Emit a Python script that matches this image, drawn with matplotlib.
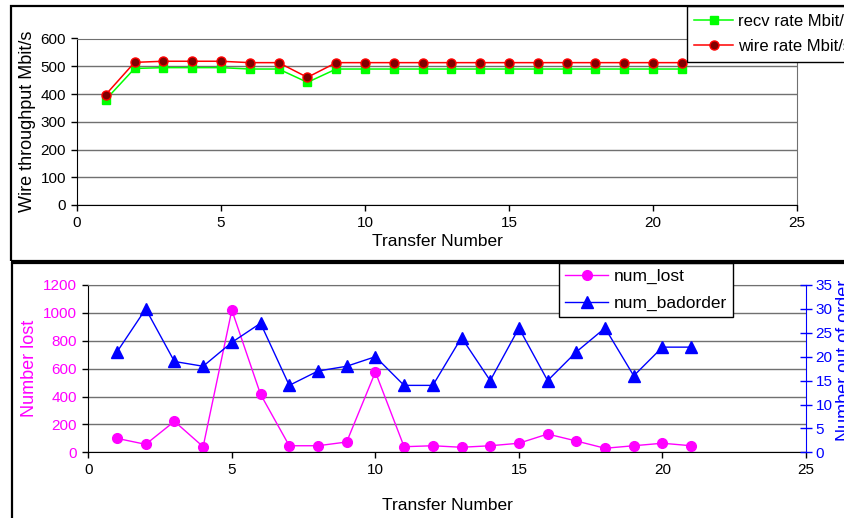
import matplotlib
matplotlib.use('Agg')
import matplotlib.pyplot as plt
from matplotlib.patches import Rectangle

plt.rcParams['font.family'] = ['Liberation Sans', 'DejaVu Sans']

# data
transfer = list(range(1, 22))
recv_rate = [380, 492, 495, 495, 495, 490, 490, 442, 490, 490, 490,
             490, 490, 490, 490, 490, 490, 490, 490, 490, 490]
wire_rate = [398, 514, 518, 518, 518, 513, 513, 460, 513, 513, 513,
             513, 513, 513, 513, 513, 513, 513, 513, 513, 513]
num_lost = [100, 57, 222, 40, 1020, 416, 47, 47, 74, 576, 40,
            47, 36, 47, 65, 131, 81, 29, 47, 65, 47]
num_badorder = [21, 30, 19, 18, 23, 27, 14, 17, 18, 20, 14,
                14, 24, 15, 26, 15, 21, 26, 16, 22, 22]

W, H = 845, 518
fig = plt.figure(figsize=(W / 100, H / 100), dpi=100)


def fx(px):
    return px / W


def fy(py):
    return 1 - py / H


# panel frames
fig.patches.append(Rectangle((fx(11), fy(261)), fx(900), fy(6) - fy(261),
                             transform=fig.transFigure, fill=False,
                             edgecolor='black', lw=1.6))
fig.patches.append(Rectangle((fx(12), fy(560)), fx(900), fy(263) - fy(560),
                             transform=fig.transFigure, fill=False,
                             edgecolor='black', lw=1.6))

grid_col = '#707070'

# ---- top chart ----
ax1 = fig.add_axes([fx(77), fy(205), fx(797) - fx(77), fy(38.5) - fy(205)])
ax1.plot(transfer, recv_rate, color='#00ff00', lw=1.1, marker='s',
         ms=6, mfc='#00ff00', mec='#00ff00', label='recv rate Mbit/s')
ax1.plot(transfer, wire_rate, color='#ff0000', lw=1.1, marker='o',
         ms=6.5, mfc='#800000', mec='#ff0000', label='wire rate Mbit/s')
ax1.set_xlim(0, 25)
ax1.set_ylim(0, 600)
ax1.set_xticks(range(0, 26, 5))
ax1.set_yticks(range(0, 601, 100))
ax1.yaxis.grid(True, color=grid_col, lw=1)
ax1.set_axisbelow(True)
for s in ['top', 'right']:
    ax1.spines[s].set_color(grid_col)
for s in ['left', 'bottom']:
    ax1.spines[s].set_color('black')
ax1.tick_params(direction='out', length=4, width=1, labelsize=11, pad=4)
ax1.set_ylabel('Wire throughput Mbit/s', fontsize=13, labelpad=3)
ax1.set_xlabel('Transfer Number', fontsize=12.5, labelpad=3)
ax1.legend(loc='upper left', bbox_to_anchor=(fx(687), fy(6)),
           bbox_transform=fig.transFigure, borderaxespad=0, fancybox=False,
           edgecolor='black', framealpha=1, fontsize=12, handlelength=2.3,
           handletextpad=0.3, labelspacing=0.65, borderpad=0.45)

# ---- bottom chart ----
ax2 = fig.add_axes([fx(88.3), fy(452.3), fx(806) - fx(88.3), fy(285) - fy(452.3)])
l1, = ax2.plot(transfer, num_lost, color='#ff00ff', lw=1.0, marker='o',
               ms=7, mfc='#ff00ff', mec='#ff00ff', label='num_lost')
ax2.set_xlim(0, 25)
ax2.set_ylim(0, 1200)
ax2.set_xticks(range(0, 26, 5))
ax2.set_yticks(range(0, 1201, 200))
ax2.yaxis.grid(True, color=grid_col, lw=1)
ax2.set_axisbelow(True)
ax2.spines['top'].set_color(grid_col)
ax2.spines['right'].set_visible(False)
ax2.tick_params(direction='out', length=4, width=1, labelsize=11, pad=4)
ax2.tick_params(axis='y', labelcolor='#ff00ff')
ax2.set_ylabel('Number lost', fontsize=13, color='#ff00ff', labelpad=4)
ax2.set_xlabel('Transfer Number', fontsize=12.5, labelpad=15)

ax3 = ax2.twinx()
l2, = ax3.plot(transfer, num_badorder, color='#0000ff', lw=1.0, marker='^',
               ms=8, mfc='#0000ff', mec='#0000ff', label='num_badorder')
ax3.set_ylim(0, 35)
ax3.set_yticks(range(0, 36, 5))
for s in ['top', 'left', 'bottom']:
    ax3.spines[s].set_visible(False)
ax3.spines['right'].set_color('#0000ff')
ax3.tick_params(axis='y', direction='inout', length=8, width=1, color='#0000ff',
                labelcolor='#0000ff', labelsize=11, pad=3)
fig.text(fx(836), fy(360), 'Number out of order', rotation=90, color='#0000ff',
         fontsize=13, ha='left', va='center')

leg = ax3.legend([l1, l2], ['num_lost', 'num_badorder'], loc='upper left',
                 bbox_to_anchor=(fx(559), fy(263)), bbox_transform=fig.transFigure,
                 borderaxespad=0, fancybox=False, edgecolor='black', framealpha=1,
                 fontsize=12.5, handlelength=2.5, handletextpad=0.3,
                 labelspacing=0.65, borderpad=0.35)

fig.savefig('out.png', dpi=100)
